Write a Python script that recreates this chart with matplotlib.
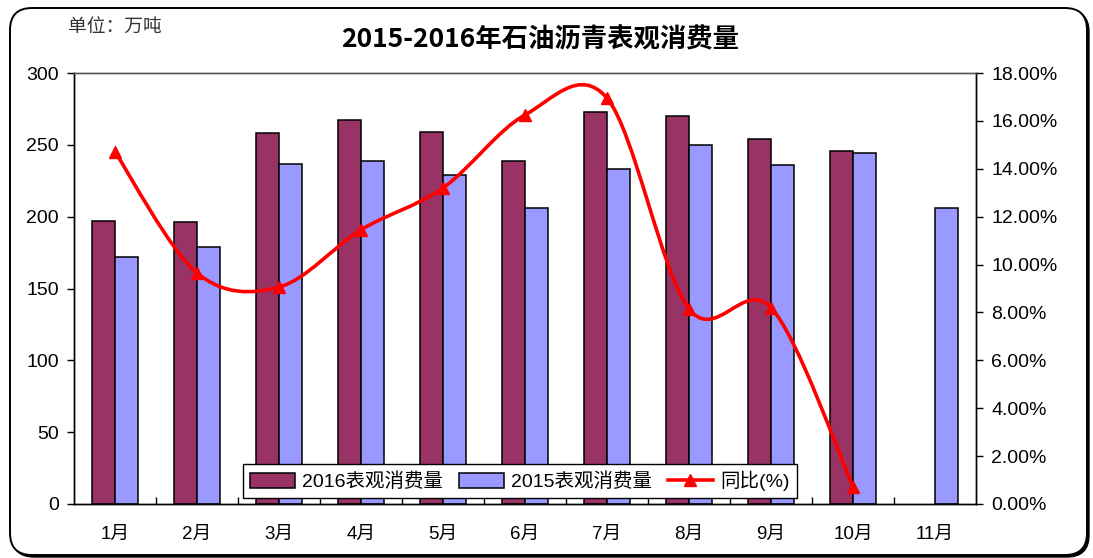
"""2015-2016年石油沥青表观消费量：柱状图 + 同比平滑曲线。"""

import matplotlib
matplotlib.use("Agg")
import matplotlib.pyplot as plt
import matplotlib.ticker as mticker
import numpy as np
from matplotlib.lines import Line2D
from matplotlib.patches import FancyBboxPatch, PathPatch
from matplotlib.path import Path
from matplotlib.transforms import IdentityTransform

plt.rcParams["font.family"] = ["Liberation Sans", "Noto Sans CJK SC"]

# 数据（万吨 / %）
MONTHS = ["1月", "2月", "3月", "4月", "5月", "6月", "7月", "8月", "9月", "10月", "11月"]
CONS_2016 = [197, 196, 258, 267, 259, 239, 273, 270, 254, 246]
CONS_2015 = [172, 179, 237, 239, 229, 206, 233, 250, 236, 244, 206]
YOY_PCT = [14.7, 9.65, 9.06, 11.45, 13.2, 16.25, 16.95, 8.15, 8.2, 0.72]

C_2016 = "#993366"
C_2015 = "#9999FF"
C_LINE = "#FF0000"


def _smooth_path(xs, ys) -> Path:
    """Excel 风格的平滑线（三次贝塞尔）。"""
    pts = np.column_stack([xs, ys]).astype(float)
    n = len(pts)
    verts = [pts[0]]
    codes = [Path.MOVETO]
    for i in range(n - 1):
        p0 = pts[i - 1] if i > 0 else pts[i]
        p3 = pts[i + 2] if i + 2 < n else pts[i + 1]
        c1 = pts[i] + (pts[i + 1] - p0) / 6
        c2 = pts[i + 1] - (p3 - pts[i]) / 6
        verts += [c1, c2, pts[i + 1]]
        codes += [Path.CURVE4] * 3
    return Path(verts, codes)


fig = plt.figure(figsize=(10.93, 5.58), dpi=100)
fig.patch.set_facecolor("white")

# 圆角外框（带右下阴影）
shadow = FancyBboxPatch((12, 1), 1077, 547, boxstyle="round,pad=0,rounding_size=22",
                        transform=IdentityTransform(), facecolor="black",
                        edgecolor="black", linewidth=1.0, zorder=-3)
frame = FancyBboxPatch((10, 3), 1077, 547, boxstyle="round,pad=0,rounding_size=22",
                       transform=IdentityTransform(), facecolor="white",
                       edgecolor="black", linewidth=1.4, zorder=-2)
fig.add_artist(shadow)
fig.add_artist(frame)

ax = fig.add_axes([74 / 1093, 54 / 558, 902 / 1093, 431 / 558])
ax2 = ax.twinx()
ax.patch.set_alpha(0)

x = np.arange(len(MONTHS))
w = 0.28
b16 = ax.bar(x[:len(CONS_2016)] - w / 2, CONS_2016, width=w, color=C_2016,
             edgecolor="black", linewidth=1.1, label="2016表观消费量")
b15 = ax.bar(x + w / 2, CONS_2015, width=w, color=C_2015,
             edgecolor="black", linewidth=1.1, label="2015表观消费量")

ax.set_xlim(-0.5, len(MONTHS) - 0.5)
ax.set_ylim(0, 300)
ax.set_yticks(np.arange(0, 301, 50))
ax.set_xticks(x)
ax.set_xticklabels(MONTHS)
ax.set_xticks(np.arange(0.5, len(MONTHS) - 0.5, 1), minor=True)
ax.tick_params(axis="x", which="major", length=0, pad=16, labelsize=13.5)
ax.tick_params(axis="x", which="minor", direction="in", length=5, width=1)
ax.tick_params(axis="y", direction="out", length=5, width=1, pad=6, labelsize=14)

# 同比曲线
ax2.set_ylim(0, 18)
ax2.set_yticks(np.arange(0, 18.1, 2))
ax2.yaxis.set_major_formatter(mticker.FuncFormatter(lambda v, _: f"{v:.2f}%"))
ax2.tick_params(axis="y", direction="out", length=5, width=1, pad=6, labelsize=14)
xs_yoy = x[:len(YOY_PCT)]
ax2.add_patch(PathPatch(_smooth_path(xs_yoy, YOY_PCT), facecolor="none",
                        edgecolor=C_LINE, linewidth=2.6, zorder=3))
ax2.plot(xs_yoy, YOY_PCT, linestyle="none", marker="^", markersize=9,
         color=C_LINE, zorder=4)

for a in (ax, ax2):
    for side in ("left", "bottom", "right"):
        a.spines[side].set_color("black")
        a.spines[side].set_linewidth(1.0)
    a.spines["top"].set_color("#555555")
    a.spines["top"].set_linewidth(1.0)

line_handle = Line2D([], [], color=C_LINE, linewidth=2.6, marker="^", markersize=9)
leg = ax2.legend([b16, b15, line_handle], ["2016表观消费量", "2015表观消费量", "同比(%)"],
                 ncol=3, loc="lower left", bbox_to_anchor=(243 / 1093, 60 / 558),
                 bbox_transform=fig.transFigure, borderaxespad=0, fontsize=14,
                 frameon=True, fancybox=False, edgecolor="black", framealpha=1,
                 handlelength=2.3, handleheight=0.75, columnspacing=0.8,
                 handletextpad=0.4, borderpad=0.35)
leg.get_frame().set_linewidth(1.0)
leg.set_zorder(10)

fig.text(540 / 1093, 1 - 40 / 558, "2015-2016年石油沥青表观消费量",
         ha="center", va="center", fontsize=19, fontweight="bold",
         family=["Noto Sans CJK SC"])
fig.text(68 / 1093, 1 - 27 / 558, "单位：万吨", ha="left", va="center",
         fontsize=13.5, color="#333333", family=["Noto Sans CJK SC"])

fig.savefig("out.png", dpi=100)
